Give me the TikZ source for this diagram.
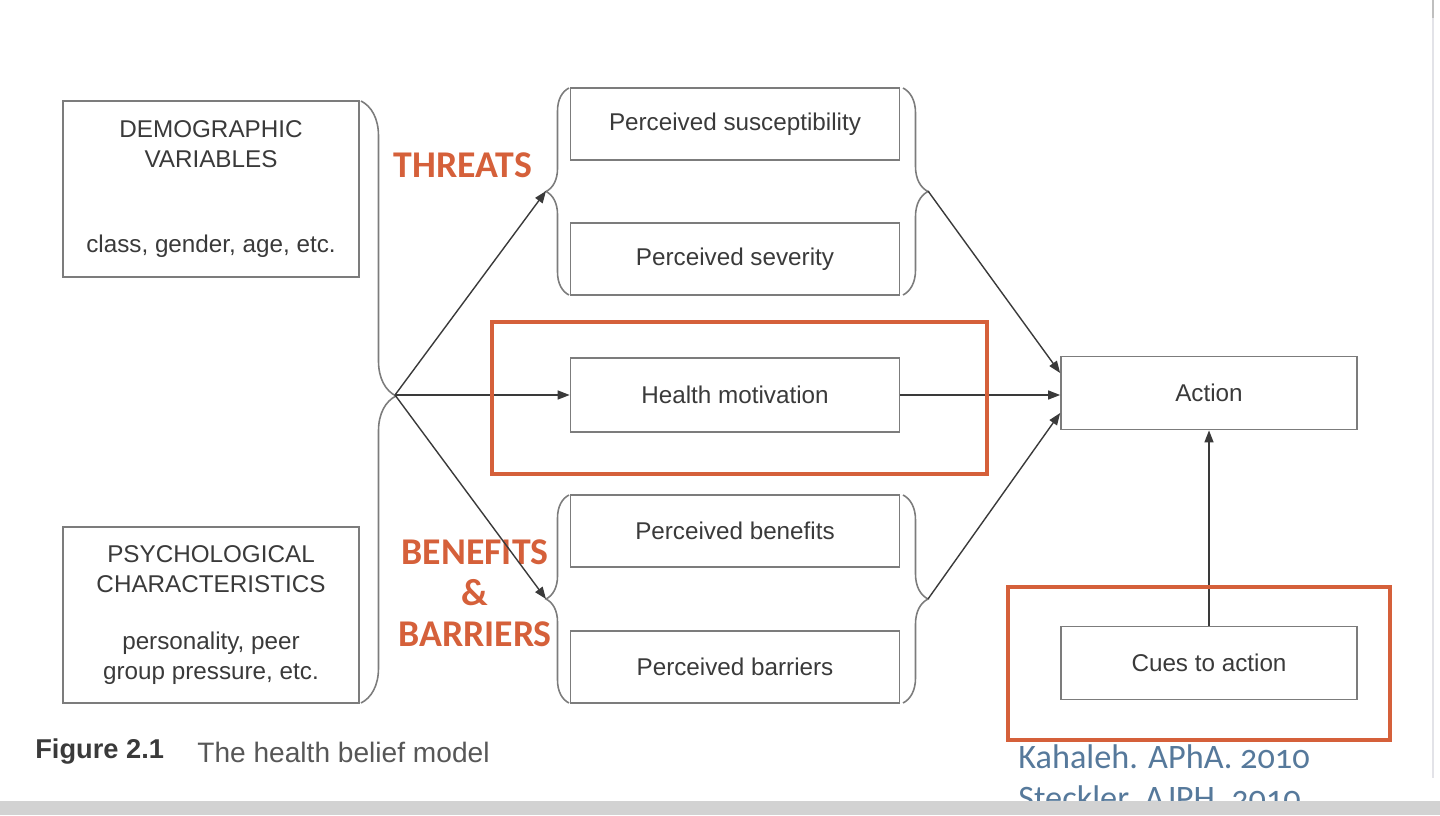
\documentclass[tikz,border=0pt]{standalone}
\usepackage{fontspec}
\setmainfont{Liberation Sans}
\newfontfamily\calfont[Numbers=OldStyle]{Carlito}
\usetikzlibrary{arrows.meta,decorations.pathreplacing}
\definecolor{lineGrey}{HTML}{7C7C7C}
\definecolor{textGrey}{HTML}{3A3A3A}
\definecolor{hbmOrange}{HTML}{D5603A}
\definecolor{citeBlue}{HTML}{56799B}

\begin{document}
\begin{tikzpicture}
	[x=0.02cm, y=-0.02cm, >={Triangle[length=2.4mm,width=1.8mm]},
	box/.style={rectangle, draw=lineGrey, line width=1pt, text=textGrey, inner sep=0pt, align=center, font=\fontsize{13.8}{17}\selectfont},
	factorBox/.style={box, minimum width=5.92cm, minimum height=3.52cm},
	percBox/.style={box, minimum width=6.58cm, minimum height=1.44cm},
	actBox/.style={box, minimum width=5.92cm, minimum height=1.46cm},
	curly/.style={decorate, decoration={brace, amplitude=#1}, draw=lineGrey, line width=0.9pt},
	orangeLabel/.style={text=hbmOrange, align=center, font=\calfont\bfseries\fontsize{21.5}{23.2}\selectfont},
	highlight/.style={draw=hbmOrange, line width=2.3pt}]
	
	\useasboundingbox (0,0) rectangle (1440,815);
	
	% modifying factors
	\node (demo) at ( 211,189 ) [factorBox] {DEMOGRAPHIC\\VARIABLES\\[1.1cm]class, gender, age, etc.};
	\node (psych) at ( 211,615 ) [factorBox] {PSYCHOLOGICAL\\CHARACTERISTICS\\[0.56cm]personality, peer\\group pressure, etc.};
	\draw [curly=0.7cm, decoration={aspect=0.49}] (361,101) -- (361,703);
	\coordinate (tip) at ( 395,395 );
	
	% perceptions
	\node (susc) at ( 735,124 ) [percBox] {Perceived susceptibility};
	\node (sev) at ( 735,259 ) [percBox] {Perceived severity};
	\node (hm) at ( 735,395 ) [percBox, minimum height=1.48cm] {Health motivation};
	\node (ben) at ( 735,531 ) [percBox] {Perceived benefits};
	\node (bar) at ( 735,667 ) [percBox] {Perceived barriers};
	
	\draw [curly=0.46cm] (569,295) -- (569,88);
	\draw [curly=0.5cm] (903,88) -- (903,295);
	\draw [curly=0.46cm] (569,703) -- (569,495);
	\draw [curly=0.5cm] (903,495) -- (903,703);
	\coordinate (thrL) at ( 546,191 );
	\coordinate (thrR) at ( 928,191 );
	\coordinate (benL) at ( 546,599 );
	\coordinate (benR) at ( 928,599 );
	
	\node (threats) at ( 463,165 ) [orangeLabel] {THREATS};
	\node (benbar) at ( 475,593 ) [orangeLabel] {BENEFITS\\\&\\BARRIERS};
	
	% action
	\node (act) at ( 1209,393 ) [actBox] {Action};
	\node (cues) at ( 1209,663 ) [actBox] {Cues to action};
	
	\draw [->, draw=textGrey, line width=0.8pt] (tip) -- (thrL);
	\draw [->, draw=textGrey, line width=0.8pt] (tip) -- (hm.west);
	\draw [->, draw=textGrey, line width=0.8pt] (tip) -- (benL);
	\draw [->, draw=textGrey, line width=0.8pt] (thrR) -- ([yshift=0.4cm]act.west);
	\draw [->, draw=textGrey, line width=0.8pt] (hm.east) -- (hm.east -| act.west);
	\draw [->, draw=textGrey, line width=0.8pt] (benR) -- ([yshift=-0.4cm]act.west);
	\draw [->, draw=textGrey, line width=0.8pt] (cues.north) -- (act.south);
	
	% highlights
	\draw [highlight] (492,322) rectangle (987,474);
	\draw [highlight] (1008,587) rectangle (1390,740);
	
	% caption and sources
	\node (fig) at ( 35,752 ) [anchor=west, inner sep=0pt, text=textGrey, font=\bfseries\fontsize{15.5}{17}\selectfont] {Figure 2.1};
	\node (title) at ( 197,752 ) [anchor=west, inner sep=0pt, text=textGrey!85, font=\fontsize{16}{17}\selectfont] {The health belief model};
	\node (kah) at ( 1018,757 ) [anchor=west, inner sep=0pt, text=citeBlue, font=\calfont\fontsize{19.5}{22}\selectfont] {Kahaleh. APhA. 2010};
	\node (steck) at ( 1018,798 ) [anchor=west, inner sep=0pt, text=citeBlue, font=\calfont\fontsize{19.5}{22}\selectfont] {Steckler. AJPH. 2010};
	
	% window edge
	\fill [gray!35] (0,801) rectangle (1440,815);
	\draw [draw=blue!10!gray!20, line width=1.5pt] (1433,0) -- (1433,778);
	\draw [draw=gray!50, line width=1.5pt] (1433,0) -- (1433,18);

\end{tikzpicture}
\end{document}
